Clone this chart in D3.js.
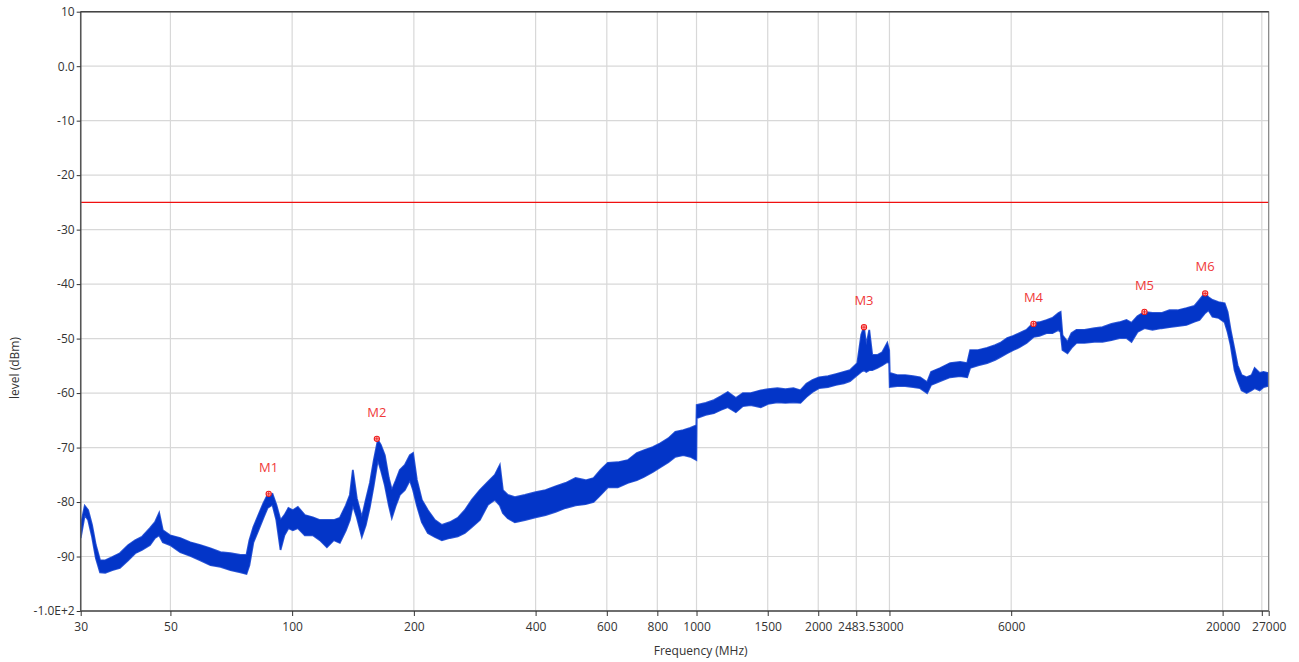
<!DOCTYPE html>
<html>
<head>
<meta charset="utf-8">
<script src="https://cdn.jsdelivr.net/npm/d3@7"></script>
<style>
  html, body { margin: 0; padding: 0; background: #fff; }
  svg { display: block; font-family: "Segoe UI", "Open Sans", "Noto Sans", sans-serif; }
</style>
</head>
<body>
<svg id="chart" width="1299" height="662"></svg>
<script>
// ---- data ----
const freqMHz = [30,30.7,31.3,32.0,32.7,33.5,34.5,35.9,37.5,39.3,40.9,42.5,44.5,45.8,46.9,47.9,49.9,52.9,56.0,59.3,62.8,66.5,70.4,74.5,77.1,78.4,80.2,82.5,84.9,86.9,89.4,91.4,93.6,95.7,97.9,100.4,103.3,107.5,112.5,117.1,121.9,126.8,131.2,135.8,138.9,141.3,144.5,148.7,152.1,155.7,159.2,162.9,165.7,169.5,173.4,176.4,180.5,184.6,190.0,195.5,199.1,203.4,209.3,216.6,225.4,234.6,245.5,256.9,267.3,278.2,291.2,304.8,317.2,326.3,332.0,341.5,355.5,376.4,400,423.4,448.2,474.5,502.3,531.8,556.5,579.1,603.4,638.8,676.1,711.8,740.7,779.7,813.8,851.7,886.3,927.7,965.4,999,1001,1054,1104,1148,1195,1251,1302,1362,1442,1502,1585,1659,1736,1807,1870,1935,2008,2114,2212,2315,2396,2498,2555,2595,2629,2674,2720,2799,2880,2963,2995,3005,3134,3281,3434,3573,3719,3803,4006,4239,4487,4670,4750,4971,5233,5476,5636,5865,6079,6290,6546,6812,7049,7336,7589,7855,7950,8036,8268,8458,8701,9107,9640,10090,10620,11116,11568,11902,12315,12816,13413,14118,14776,15466,16279,17037,17529,18108,18451,18877,19532,20230,20578,20932,21414,21782,22286,22930,23592,24000,24690,25256,25838];
const levelMax = [-84.2,-80.7,-81.5,-84.2,-87.9,-90.7,-90.7,-90.1,-89.4,-87.9,-87.0,-86.4,-84.8,-83.7,-82.0,-85.2,-86.1,-86.6,-87.4,-87.9,-88.5,-89.2,-89.4,-89.7,-89.7,-87.0,-84.6,-82.4,-80.2,-78.7,-78.5,-80.5,-83.3,-82.4,-81.1,-81.5,-80.9,-82.4,-82.8,-83.3,-83.3,-83.3,-82.9,-80.6,-78.7,-74.1,-79.3,-82.8,-79.6,-76.5,-72.3,-68.6,-69.5,-71.4,-75.6,-77.8,-76.0,-74.1,-73.2,-71.4,-71.0,-75.9,-79.6,-81.5,-83.3,-84.2,-83.7,-82.9,-81.5,-79.6,-77.8,-76.3,-75.0,-73.2,-77.8,-78.7,-79.1,-78.7,-78.2,-77.8,-77.1,-76.5,-75.6,-76.0,-75.6,-74.1,-72.8,-72.7,-72.3,-71.0,-70.5,-69.9,-69.2,-68.3,-67.1,-66.8,-66.4,-65.9,-62.2,-61.8,-61.3,-60.6,-59.8,-60.9,-60.0,-60.0,-59.5,-59.3,-59.1,-59.3,-59.1,-59.5,-58.3,-57.6,-57.1,-56.9,-56.5,-56.1,-55.8,-54.5,-49.3,-47.9,-51.2,-48.4,-53.0,-53.0,-52.5,-50.8,-52.1,-56.3,-56.7,-56.7,-56.9,-57.1,-58.0,-56.1,-55.4,-54.5,-54.3,-54.5,-52.1,-52.1,-51.7,-51.2,-50.8,-49.9,-49.5,-49.0,-48.4,-47.1,-47.0,-46.6,-46.2,-45.3,-45.1,-49.4,-50.6,-49.0,-48.4,-48.4,-48.1,-47.9,-47.3,-47.0,-46.6,-47.1,-45.9,-45.1,-45.3,-45.3,-44.8,-44.8,-44.4,-44.0,-42.9,-41.6,-42.4,-42.9,-43.3,-43.5,-45.1,-48.4,-52.1,-54.9,-56.7,-57.1,-56.7,-55.4,-56.3,-56.1,-56.3];
const levelMin = [-86.6,-82.4,-83.3,-86.4,-90.3,-92.9,-93.0,-92.5,-92.1,-90.7,-89.4,-88.8,-87.9,-86.6,-86.1,-87.4,-87.9,-89.2,-89.9,-90.7,-91.6,-91.9,-92.5,-92.9,-93.2,-91.6,-87.4,-85.2,-82.9,-81.1,-80.5,-83.3,-88.8,-86.1,-84.8,-85.2,-84.8,-86.1,-86.1,-87.0,-88.3,-87.0,-87.5,-85.2,-83.3,-80.6,-82.8,-86.4,-84.2,-80.9,-76.9,-72.3,-74.1,-76.9,-80.6,-82.9,-80.6,-78.7,-77.8,-76.0,-77.8,-80.6,-83.7,-85.7,-86.4,-87.0,-86.6,-86.3,-85.7,-84.6,-83.3,-80.5,-79.6,-80.6,-82.0,-83.0,-83.7,-83.3,-82.8,-82.4,-81.8,-81.1,-80.6,-80.4,-80.0,-78.7,-77.3,-77.3,-76.5,-76.0,-75.4,-74.5,-73.6,-72.7,-71.7,-71.4,-71.7,-72.3,-64.6,-64.0,-63.7,-63.1,-62.6,-63.5,-62.4,-62.2,-62.6,-62.0,-61.7,-61.8,-61.7,-61.8,-60.7,-59.8,-59.1,-58.9,-58.5,-58.2,-57.8,-56.7,-56.1,-55.8,-56.1,-55.8,-55.8,-55.4,-54.9,-54.3,-54.5,-58.9,-58.7,-58.7,-58.9,-59.1,-60.0,-58.5,-57.8,-57.1,-56.9,-57.1,-55.4,-54.9,-54.5,-53.9,-53.4,-52.7,-52.1,-51.6,-50.8,-49.7,-49.5,-49.0,-49.0,-48.4,-48.8,-52.1,-52.7,-51.7,-50.8,-50.8,-50.6,-50.6,-50.3,-49.9,-49.9,-50.6,-48.8,-48.1,-48.4,-48.1,-47.9,-47.7,-47.5,-46.9,-46.6,-45.3,-44.8,-46.0,-46.2,-47.0,-48.8,-51.2,-55.8,-57.6,-59.5,-60.0,-59.5,-59.1,-59.5,-58.9,-58.7];

const markerNames = ["M1","M2","M3","M4","M5","M6"];
const markerFreq  = [87.5, 162.0, 2595, 6812, 12816, 18108];
const markerLevel = [-78.5, -68.4, -47.9, -47.3, -45.1, -41.7];

const limitLevel = -25;

const xTickValues = [30,50,100,200,400,600,800,1000,1500,2000,2483.5,3000,6000,20000,25000,26000];
const xTickLabels = ["30","50","100","200","400","600","800","1000","1500","2000","2483.5","3000","6000","20000","","27000"];
const yTickValues = [10,0,-10,-20,-30,-40,-50,-60,-70,-80,-90,-100];
const yTickLabels = ["10","0.0","-10","-20","-30","-40","-50","-60","-70","-80","-90","-1.0E+2"];

// ---- layout ----
const L = 80.7, R = 1268.7, T = 11.7, B = 611;
const svg = d3.select("#chart");
const x = d3.scaleLog().domain([30, 26000]).range([L, R]);
const y = d3.scaleLinear().domain([-100, 10]).range([B, T]);

// grid
const grid = svg.append("g");
grid.selectAll("line.gx").data(xTickValues.slice(1)).join("line")
  .attr("x1", d => x(d)).attr("x2", d => x(d)).attr("y1", T).attr("y2", B)
  .attr("stroke", "#d8d8d8").attr("stroke-width", 1.2);
grid.selectAll("line.gy").data(yTickValues.slice(1, -1)).join("line")
  .attr("x1", L).attr("x2", R).attr("y1", d => y(d)).attr("y2", d => y(d))
  .attr("stroke", "#d8d8d8").attr("stroke-width", 1.2);

// clip
svg.append("clipPath").attr("id", "plotclip").append("rect")
  .attr("x", L).attr("y", T).attr("width", R - L).attr("height", B - T);

const plot = svg.append("g").attr("clip-path", "url(#plotclip)");

// limit line
plot.append("line").attr("x1", L).attr("x2", R)
  .attr("y1", y(limitLevel)).attr("y2", y(limitLevel))
  .attr("stroke", "#f01010").attr("stroke-width", 1.2);

// trace band
const trace = freqMHz.map((f, i) => ({f, hi: levelMax[i], lo: levelMin[i]}));
const area = d3.area().x(d => x(d.f)).y0(d => y(d.lo)).y1(d => y(d.hi));
plot.append("path").datum(trace).attr("d", area)
  .attr("fill", "#0335c8").attr("stroke", "#2d57d6").attr("stroke-width", 1.8)
  .attr("stroke-linejoin", "miter");
plot.append("path").datum(trace).attr("d", area)
  .attr("fill", "#0335c8").attr("stroke", "none");

// markers
const mk = svg.append("g");
markerNames.forEach((name, i) => {
  const cx = x(markerFreq[i]), cy = y(markerLevel[i]);
  mk.append("circle").attr("cx", cx).attr("cy", cy).attr("r", 2.6)
    .attr("fill", "#ffd0d0").attr("stroke", "#ee1c1c").attr("stroke-width", 1.1);
  mk.append("line").attr("x1", cx - 2).attr("x2", cx + 2).attr("y1", cy).attr("y2", cy)
    .attr("stroke", "#ee1c1c").attr("stroke-width", 0.9);
  mk.append("line").attr("x1", cx).attr("x2", cx).attr("y1", cy - 2).attr("y2", cy + 2)
    .attr("stroke", "#ee1c1c").attr("stroke-width", 0.9);
  mk.append("text").attr("x", cx).attr("y", cy - 22).attr("text-anchor", "middle")
    .attr("font-size", 13).attr("fill", "#f03a3a").text(name);
});

// frame
svg.append("rect").attr("x", L).attr("y", T).attr("width", R - L).attr("height", B - T)
  .attr("fill", "none").attr("stroke", "#777").attr("stroke-width", 1);
svg.append("line").attr("x1", L).attr("x2", L).attr("y1", T).attr("y2", B)
  .attr("stroke", "#555").attr("stroke-width", 1.5);
svg.append("line").attr("x1", L).attr("x2", R).attr("y1", B).attr("y2", B)
  .attr("stroke", "#555").attr("stroke-width", 1.5);
svg.append("line").attr("x1", L).attr("x2", R).attr("y1", T).attr("y2", T)
  .attr("stroke", "#444").attr("stroke-width", 1.5);

// axes
const xAxis = d3.axisBottom(x).tickValues(xTickValues).tickSize(5).tickPadding(6)
  .tickFormat((d, i) => xTickLabels[i]);
const gx = svg.append("g").attr("transform", `translate(0,${B})`).call(xAxis);
gx.select(".domain").remove();
gx.selectAll(".tick line").attr("stroke", "#333");
gx.selectAll(".tick text").attr("font-size", 12).attr("fill", "#333")
  .attr("font-family", "'Segoe UI','Open Sans','Noto Sans',sans-serif");

const yAxis = d3.axisLeft(y).tickValues(yTickValues).tickSize(4).tickPadding(2)
  .tickFormat((d, i) => yTickLabels[i]);
const gy = svg.append("g").attr("transform", `translate(${L},0)`).call(yAxis);
gy.select(".domain").remove();
gy.selectAll(".tick line").attr("stroke", "#333");
gy.selectAll(".tick text").attr("font-size", 12).attr("fill", "#333")
  .attr("font-family", "'Segoe UI','Open Sans','Noto Sans',sans-serif");

// axis titles
svg.append("text").attr("x", (L + R) / 2 + 26).attr("y", 655).attr("text-anchor", "middle")
  .attr("font-size", 12).attr("fill", "#333").text("Frequency (MHz)");
svg.append("text").attr("transform", "translate(19,368) rotate(-90)").attr("text-anchor", "middle")
  .attr("font-size", 12).attr("fill", "#333").text("level (dBm)");
</script>
</body>
</html>
